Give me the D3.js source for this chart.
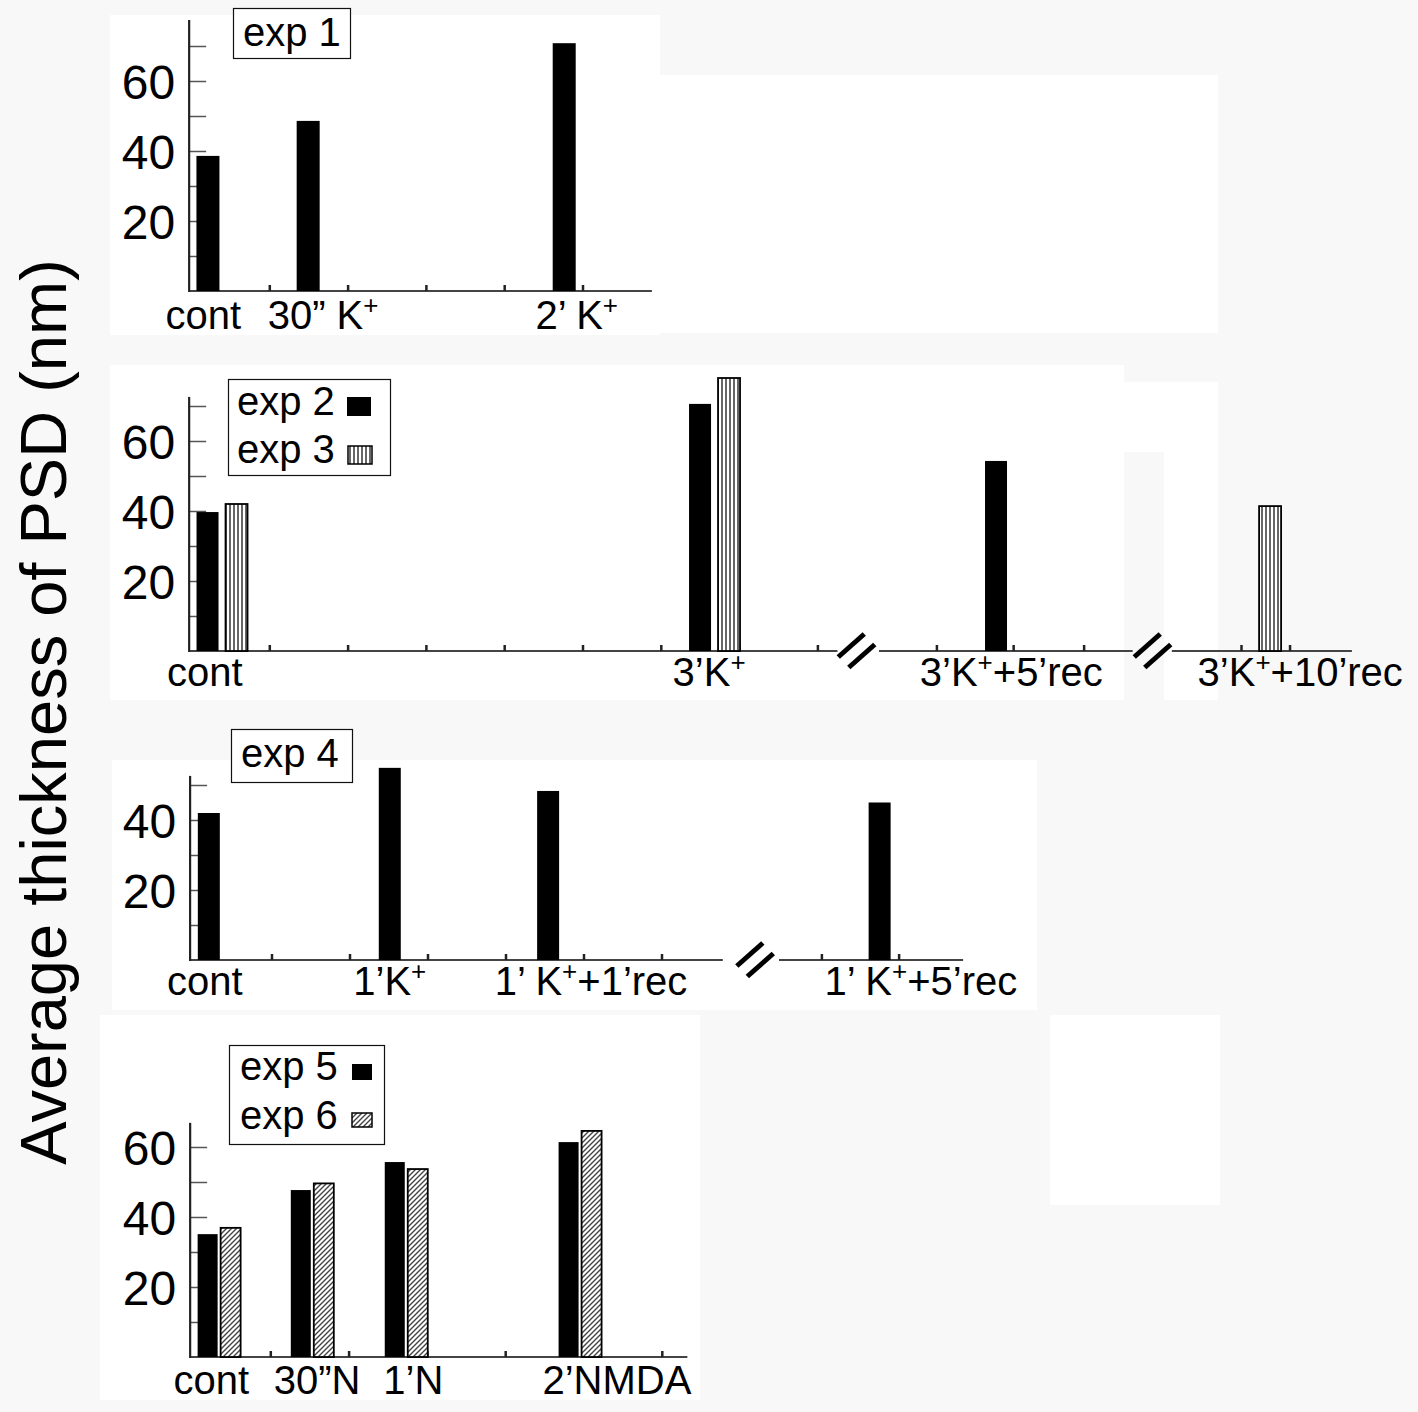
<!DOCTYPE html>
<html><head><meta charset="utf-8">
<script src="https://cdn.jsdelivr.net/npm/d3@7"></script>
<style>
body{margin:0;background:#f8f8f8}
svg{display:block}
text{font-family:"Liberation Sans",Arial,Helvetica,sans-serif;fill:#000}
</style>
</head><body>
<svg id="chart" width="1418" height="1412"></svg>
<script>
// ---------------- DATA ----------------
// "^+" marks a superscript plus
const yTitle = "Average thickness of PSD (nm)";

const p1Categories = ["cont", "30” K^+", "2’ K^+"];
const p1Exp1 = [38.6, 48.6, 70.8];

const p2Categories = ["cont", "3’K^+", "3’K^++5’rec", "3’K^++10’rec"];
const p2Exp2 = [39.7, 70.6, 54.3, null];
const p2Exp3 = [42.0, 78.0, null, 41.4];

const p3Categories = ["cont", "1’K^+", "1’ K^++1’rec", "1’ K^++5’rec"];
const p3Exp4 = [42.0, 54.9, 48.3, 45.0];

const p4Categories = ["cont", "30”N", "1’N", "2’NMDA"];
const p4Exp5 = [35.1, 47.7, 55.7, 61.4];
const p4Exp6 = [36.9, 49.6, 53.7, 64.6];

const yLabelTicks3 = [20, 40, 60];
const yLabelTicks2 = [20, 40];

// ---------------- LAYOUT ----------------
const panels = [
  { cats: p1Categories,
    series: [{ name: "exp 1", values: p1Exp1, fill: "solid" }],
    baseY: 291, axisTop: 77.4, minorMax: 70, yLabels: yLabelTicks3,
    x0: 191.5, step: 78.3, segments: [[-0.03, 5.88]], xTicks: [1, 2, 3, 4, 5], breaks: [],
    groupPos: [0.21, 1.49, 4.76], barW: 23, offsets: [0],
    labelPos: [0.15, 1.68, 4.92], labelY: 329,
    legend: { x: 233, y: 8, w: 117, h: 50, rows: [{ tx: 243, ty: 46 }] } },
  { cats: p2Categories,
    series: [{ name: "exp 2", values: p2Exp2, fill: "solid" }, { name: "exp 3", values: p2Exp3, fill: "stripes" }],
    baseY: 651, axisTop: 72.6, minorMax: 70, yLabels: yLabelTicks3,
    x0: 191.5, step: 78.3, segments: [[-0.03, 8.25], [8.78, 12.02], [12.52, 14.82]],
    xTicks: [1, 2, 3, 4, 5, 6, 7, 8, 9.52, 10.5, 11.4, 13.41, 14.03], breaks: [8.49, 12.27],
    groupPos: [0.39, 6.68, 10.46, 13.59], barW: 22, offsets: [-14.5, 14.5],
    labelPos: [0.17, 6.61, 10.47, 14.16], labelY: 686,
    legend: { x: 228, y: 379, w: 162, h: 96, rows: [{ tx: 237, ty: 415, sx: 347, sy: 397, sw: 24, sh: 19 }, { tx: 237, ty: 463, sx: 348, sy: 446, sw: 24, sh: 18 }] } },
  { cats: p3Categories,
    series: [{ name: "exp 4", values: p3Exp4, fill: "solid" }],
    baseY: 960, axisTop: 52.6, minorMax: 50, yLabels: yLabelTicks2,
    x0: 194, step: 78, segments: [[-0.05, 6.78], [7.5, 9.86]],
    xTicks: [1, 2, 3, 4, 5, 6, 8.05, 9.04], breaks: [7.19],
    groupPos: [0.19, 2.51, 4.54, 8.79], barW: 22, offsets: [0],
    labelPos: [0.14, 2.51, 5.09, 9.32], labelY: 995,
    legend: { x: 231, y: 729, w: 121, h: 53, rows: [{ tx: 241, ty: 767 }] } },
  { cats: p4Categories,
    series: [{ name: "exp 5", values: p4Exp5, fill: "solid" }, { name: "exp 6", values: p4Exp6, fill: "hatch" }],
    baseY: 1357, axisTop: 66.9, minorMax: 60, yLabels: yLabelTicks3,
    x0: 192.5, step: 78.3, segments: [[-0.03, 6.32]], xTicks: [1, 2, 3, 4, 5, 6], breaks: [],
    groupPos: [0.34, 1.53, 2.73, 4.95], barW: 20, offsets: [-11.5, 11.5],
    labelPos: [0.24, 1.59, 2.82, 5.42], labelY: 1394,
    legend: { x: 229, y: 1045, w: 155, h: 99, rows: [{ tx: 240, ty: 1080, sx: 352, sy: 1064, sw: 20, sh: 16 }, { tx: 240, ty: 1129, sx: 352, sy: 1113, sw: 20, sh: 14 }] } }
];

const whiteAreas = [
  [110, 15, 550, 320], [660, 75, 558, 258],
  [110, 365, 1014, 335], [1124, 382, 94, 70], [1164, 452, 54, 248],
  [112, 760, 925, 250], [100, 1015, 600, 385], [1050, 1015, 170, 190]
];

// ---------------- DRAW ----------------
const svg = d3.select("#chart");
const defs = svg.append("defs");

const stripes = defs.append("pattern").attr("id", "stripes").attr("patternUnits", "userSpaceOnUse")
  .attr("width", 4).attr("height", 4);
stripes.append("rect").attr("width", 4).attr("height", 4).attr("fill", "#fff");
stripes.append("line").attr("x1", 2).attr("x2", 2).attr("y1", 0).attr("y2", 4)
  .attr("stroke", "#333").attr("stroke-width", 1.5);

const hatch = defs.append("pattern").attr("id", "hatch").attr("patternUnits", "userSpaceOnUse")
  .attr("width", 5).attr("height", 5);
hatch.append("rect").attr("width", 5).attr("height", 5).attr("fill", "#fff");
hatch.append("path").attr("d", "M0,5 L5,0 M-1,1 L1,-1 M4,6 L6,4")
  .attr("stroke", "#444").attr("stroke-width", 1.4);

const fillOf = f => f === "solid" ? "#000" : (f === "stripes" ? "url(#stripes)" : "url(#hatch)");

svg.selectAll("rect.bg").data(whiteAreas).enter().append("rect").attr("class", "bg")
  .attr("x", d => d[0]).attr("y", d => d[1]).attr("width", d => d[2]).attr("height", d => d[3])
  .attr("fill", "#fff");

function addLabel(sel, str, fs) {
  const parts = str.split("^+");
  parts.forEach((p, i) => {
    if (p.length) sel.append("tspan").attr("dy", i > 0 ? fs * 0.38 : null).text(p);
    if (i < parts.length - 1) {
      sel.append("tspan").attr("font-size", fs * 0.62).attr("dy", -fs * 0.38).text("+");
      if (i === parts.length - 2 && parts[parts.length - 1] === "") {
        // nothing follows
      }
    }
  });
  // fix dy for the tspan following a superscript when it's the first text after it
}

panels.forEach(P => {
  const g = svg.append("g");
  const x = d3.scaleLinear().domain([0, 1]).range([P.x0, P.x0 + P.step]);
  const y = d3.scaleLinear().domain([0, 10]).range([P.baseY, P.baseY - 35]);
  const axisX = x(P.segments[0][0]);

  // y minor ticks (inward)
  const yAxis = d3.axisRight(y).tickValues(d3.range(10, P.minorMax + 1, 10)).tickSize(17).tickFormat("");
  const ya = g.append("g").attr("transform", `translate(${axisX},0)`).call(yAxis);
  ya.select(".domain").remove();
  ya.selectAll(".tick line").attr("stroke", "#555").attr("stroke-width", 1.5);

  // y labels
  const yLab = d3.axisLeft(y).tickValues(P.yLabels).tickSize(0).tickPadding(14);
  const yl = g.append("g").attr("transform", `translate(${axisX},0)`).call(yLab);
  yl.select(".domain").remove();
  yl.selectAll(".tick text").attr("font-size", 48).attr("font-family", "Liberation Sans, Arial, sans-serif")
    .attr("fill", "#000").attr("dy", "0.36em");

  // x baseline segments
  g.selectAll("line.seg").data(P.segments).enter().append("line")
    .attr("x1", d => x(d[0])).attr("x2", d => x(d[1]))
    .attr("y1", P.baseY).attr("y2", P.baseY).attr("stroke", "#444").attr("stroke-width", 2);

  // x ticks
  g.selectAll("line.xt").data(P.xTicks).enter().append("line")
    .attr("x1", d => x(d)).attr("x2", d => x(d))
    .attr("y1", P.baseY).attr("y2", P.baseY - 6).attr("stroke", "#222").attr("stroke-width", 2.5);

  // breaks
  P.breaks.forEach(b => {
    const cx = x(b), cy = P.baseY;
    [[-5, -5.5], [5.5, 5]].forEach(o => {
      g.append("line")
        .attr("x1", cx + o[0] - 13).attr("y1", cy + o[1] + 11.5)
        .attr("x2", cx + o[0] + 13).attr("y2", cy + o[1] - 11.5)
        .attr("stroke", "#000").attr("stroke-width", 5);
    });
  });

  // bars
  P.series.forEach((s, si) => {
    const data = s.values.map((v, i) => ({ v, i })).filter(d => d.v != null);
    g.selectAll(null).data(data).enter().append("rect")
      .attr("x", d => x(P.groupPos[d.i]) + P.offsets[si] - P.barW / 2)
      .attr("width", P.barW)
      .attr("y", d => y(d.v))
      .attr("height", d => y(0) - y(d.v))
      .attr("fill", fillOf(s.fill))
      .attr("stroke", "#000").attr("stroke-width", s.fill === "solid" ? 0 : 1.8);
  });

  // y axis line
  g.append("line").attr("x1", axisX).attr("x2", axisX).attr("y1", y(0) + 1).attr("y2", y(P.axisTop))
    .attr("stroke", "#222").attr("stroke-width", 2.2);

  // category labels
  P.cats.forEach((c, i) => {
    const t = g.append("text").attr("x", x(P.labelPos[i])).attr("y", P.labelY)
      .attr("text-anchor", "middle").attr("font-size", 40);
    const parts = c.split("^+");
    let shifted = false;
    parts.forEach((p, k) => {
      if (p.length) {
        const ts = t.append("tspan").text(p);
        if (shifted) { ts.attr("dy", 40 * 0.38); shifted = false; }
      }
      if (k < parts.length - 1) {
        t.append("tspan").attr("font-size", 26).attr("dy", -40 * 0.38).text("+");
        shifted = true;
      }
    });
  });

  // legend
  const L = P.legend;
  g.append("rect").attr("x", L.x + 0.5).attr("y", L.y + 0.5).attr("width", L.w).attr("height", L.h)
    .attr("fill", "#fff").attr("stroke", "#111").attr("stroke-width", 1.2);
  L.rows.forEach((r, k) => {
    g.append("text").attr("x", r.tx).attr("y", r.ty).attr("font-size", 40).text(P.series[k].name);
    if (r.sx != null) {
      g.append("rect").attr("x", r.sx).attr("y", r.sy).attr("width", r.sw).attr("height", r.sh)
        .attr("fill", fillOf(P.series[k].fill))
        .attr("stroke", "#000").attr("stroke-width", P.series[k].fill === "solid" ? 0 : 1.5);
    }
  });
});

// y axis title
svg.append("text").attr("transform", "translate(66,712) rotate(-90)")
  .attr("text-anchor", "middle").attr("font-size", 65).text(yTitle);
</script>
</body></html>
